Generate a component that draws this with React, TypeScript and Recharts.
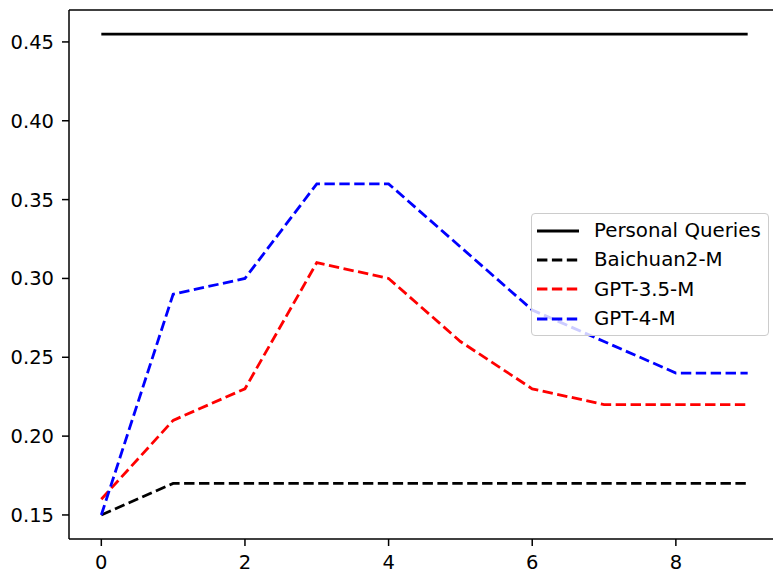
import { LineChart, Line, XAxis, YAxis, Legend, ReferenceLine } from "recharts";

// x positions (steps) and the four series
const steps = [0, 1, 2, 3, 4, 5, 6, 7, 8, 9];
const personalQueries = [0.455, 0.455, 0.455, 0.455, 0.455, 0.455, 0.455, 0.455, 0.455, 0.455];
const baichuan2M = [0.15, 0.17, 0.17, 0.17, 0.17, 0.17, 0.17, 0.17, 0.17, 0.17];
const gpt35M = [0.16, 0.21, 0.23, 0.31, 0.3, 0.26, 0.23, 0.22, 0.22, 0.22];
const gpt4M = [0.15, 0.29, 0.3, 0.36, 0.36, 0.32, 0.28, 0.26, 0.24, 0.24];

const seriesNames = ["Personal Queries", "Baichuan2-M", "GPT-3.5-M", "GPT-4-M"];

const xTicks = [0, 2, 4, 6, 8];
const yTicks = [0.15, 0.2, 0.25, 0.3, 0.35, 0.4, 0.45];
const yDomain = [0.13475, 0.47025];

const FONT = "'DejaVu Sans', sans-serif";
const FS = 19.5;
const DASH = "10.4 4.5";
const LW = 2.8;

const data = steps.map((s, i) => ({
  step: s,
  pq: personalQueries[i],
  baichuan: baichuan2M[i],
  gpt35: gpt35M[i],
  gpt4: gpt4M[i],
}));

// matplotlib-like legend box; keep the plotting order, not alphabetical
function LegendBox({ payload }: { payload?: any[] }) {
  const items = [...(payload || [])].sort(
    (a, b) => seriesNames.indexOf(a.value) - seriesNames.indexOf(b.value)
  );
  return (
    <div
      style={{
        boxSizing: "border-box",
        width: 238,
        height: 123,
        border: "1px solid #cccccc",
        borderRadius: 4,
        background: "rgba(255,255,255,0.8)",
        padding: "2px 0 0 5px",
        fontFamily: FONT,
        fontSize: 19.8,
        color: "#000",
      }}
    >
      {items.map((p) => (
        <div
          key={p.value}
          style={{ display: "flex", alignItems: "center", height: 29.3 }}
        >
          <svg width={42} height={10} style={{ display: "block" }}>
            <line
              x1={0}
              y1={5}
              x2={42}
              y2={5}
              stroke={p.color}
              strokeWidth={LW}
              strokeDasharray={p.payload?.strokeDasharray}
            />
          </svg>
          <span style={{ marginLeft: 15, lineHeight: "29.3px", whiteSpace: "nowrap" }}>
            {p.value}
          </span>
        </div>
      ))}
    </div>
  );
}

export default function App() {
  return (
    <div
      style={{
        position: "fixed",
        top: 0,
        left: 0,
        width: 773,
        height: 574,
        overflow: "hidden",
        background: "#fff",
        fontFamily: FONT,
      }}
    >
      <LineChart
        width={790}
        height={574}
        data={data}
        margin={{ top: 10, right: 10, bottom: 0, left: 0 }}
      >
        <XAxis
          dataKey="step"
          type="number"
          domain={[-0.45, 9.45]}
          ticks={xTicks}
          allowDataOverflow
          height={35}
          stroke="#000"
          strokeWidth={1.5}
          tickSize={7}
          tickMargin={9.5}
          tick={{ fill: "#000", fontSize: FS, fontFamily: FONT }}
        />
        <YAxis
          type="number"
          domain={yDomain}
          ticks={yTicks}
          allowDataOverflow
          width={69}
          stroke="#000"
          strokeWidth={1.5}
          tickSize={7}
          tickMargin={8}
          tickFormatter={(v: number) => v.toFixed(2)}
          tick={{ fill: "#000", fontSize: FS, fontFamily: FONT }}
        />
        {/* top spine */}
        <ReferenceLine y={yDomain[1]} stroke="#000" strokeWidth={1.5} />
        <Legend
          layout="horizontal"
          verticalAlign="middle"
          align="center"
          wrapperStyle={{ left: 531, top: 213, width: 238, height: 123 }}
          content={(props: any) => <LegendBox payload={props.payload} />}
        />
        <Line
          type="linear"
          dataKey="pq"
          name="Personal Queries"
          stroke="#000000"
          strokeWidth={LW}
          dot={false}
          isAnimationActive={false}
        />
        <Line
          type="linear"
          dataKey="baichuan"
          name="Baichuan2-M"
          stroke="#000000"
          strokeWidth={LW}
          strokeDasharray={DASH}
          dot={false}
          isAnimationActive={false}
        />
        <Line
          type="linear"
          dataKey="gpt35"
          name="GPT-3.5-M"
          stroke="#ff0000"
          strokeWidth={LW}
          strokeDasharray={DASH}
          dot={false}
          isAnimationActive={false}
        />
        <Line
          type="linear"
          dataKey="gpt4"
          name="GPT-4-M"
          stroke="#0000ff"
          strokeWidth={LW}
          strokeDasharray={DASH}
          dot={false}
          isAnimationActive={false}
        />
      </LineChart>
    </div>
  );
}
